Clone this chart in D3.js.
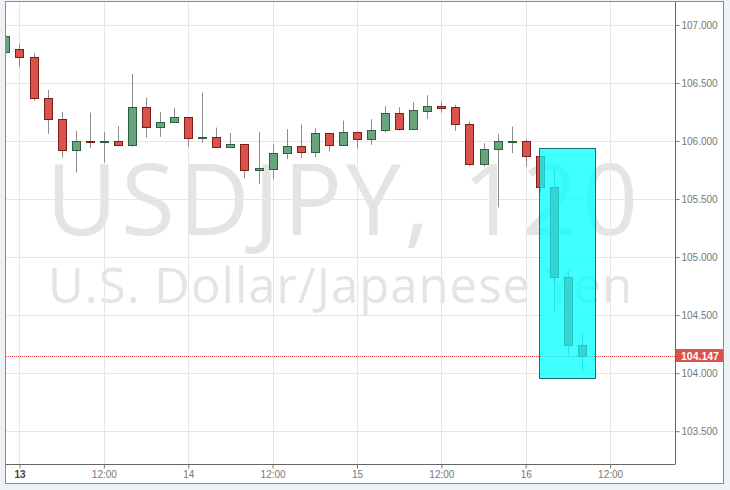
<!DOCTYPE html>
<html><head><meta charset="utf-8">
<script src="https://cdn.jsdelivr.net/npm/d3@7"></script>
<style>
html,body{margin:0;padding:0;background:#eef2f6;}
svg{display:block;}
</style></head>
<body>
<svg id="chart" width="730" height="490"></svg>
<script>
// ---- data (2-hour candles, USDJPY) ----
const startTime = Date.UTC(2016, 8, 12, 22, 0); // first candle: 12th 22:00
const stepHours = 2;
const opens  = [106.77,106.79,106.722,106.372,106.188,105.924,106.0,105.992,106.0,105.962,106.292,106.12,106.163,106.206,106.022,106.034,105.948,105.973,105.75,105.763,105.896,105.956,105.904,106.065,105.962,106.082,106.019,106.096,106.24,106.108,106.263,106.30,106.292,106.151,105.798,105.93,105.998,106.0,105.873,105.60,104.825,104.24];
const highs  = [106.91,106.84,106.756,106.44,106.251,106.088,106.245,106.077,106.128,106.578,106.374,106.251,106.286,106.206,106.417,106.116,106.068,105.973,106.079,105.976,106.102,106.142,106.111,106.065,106.176,106.082,106.188,106.30,106.292,106.335,106.395,106.337,106.312,106.168,105.982,106.062,106.125,106.016,105.873,105.752,104.863,104.338];
const lows   = [106.77,106.636,106.349,106.062,105.858,105.729,105.939,105.815,105.955,105.953,106.03,106.036,106.163,105.948,105.987,105.948,105.948,105.68,105.629,105.672,105.844,105.853,105.861,105.91,105.962,105.935,105.967,106.073,106.09,106.108,106.19,106.245,106.088,105.787,105.78,105.428,105.896,105.78,105.552,104.524,104.169,104.016];
const closes = [106.905,106.72,106.369,106.188,105.924,105.999,105.99,106.0,105.962,106.292,106.12,106.165,106.206,106.022,106.034,105.948,105.973,105.75,105.767,105.898,105.956,105.904,106.065,105.962,106.082,106.019,106.099,106.24,106.108,106.266,106.30,106.288,106.148,105.798,105.93,105.999,106.0,105.873,105.60,104.825,104.24,104.147];
const lastPrice = 104.147;

const xTickTimes  = [Date.UTC(2016,8,13,0),Date.UTC(2016,8,13,12),Date.UTC(2016,8,14,0),Date.UTC(2016,8,14,12),Date.UTC(2016,8,15,0),Date.UTC(2016,8,15,12),Date.UTC(2016,8,16,0),Date.UTC(2016,8,16,12)];
const xTickLabels = ["13","12:00","14","12:00","15","12:00","16","12:00"];
const yTicks = [103.5,104.0,104.5,105.0,105.5,106.0,106.5,107.0];

const highlightTimes  = [Date.UTC(2016,8,16,1,56), Date.UTC(2016,8,16,9,54)];
const highlightPrices = [105.939, 103.96];

const watermarkTitle = "USDJPY, 120";
const watermarkSub = "U.S. Dollar/Japanese Yen";

// ---- layout ----
const svg = d3.select("#chart");
const frame = {l:5.5, t:1.5, r:723.5, b:483.5};
const plot = {l:6, t:2, r:675, b:464.5};

const x = d3.scaleUtc()
  .domain([Date.UTC(2016,8,12,22,5), Date.UTC(2016,8,16,21,14)])
  .range([plot.l, plot.r]);
const y = d3.scaleLinear()
  .domain([103.213, 107.198])
  .range([plot.b, plot.t]);

const candles = opens.map((o,i)=>({t:new Date(startTime + i*stepHours*3600e3), o, h:highs[i], l:lows[i], c:closes[i]}));

// frame background
svg.append("rect").attr("x",frame.l).attr("y",frame.t)
  .attr("width",frame.r-frame.l).attr("height",frame.b-frame.t)
  .attr("fill","#fff").attr("stroke","#8a8a8a").attr("stroke-width",1);

svg.append("clipPath").attr("id","pc").append("rect")
  .attr("x",plot.l).attr("y",plot.t).attr("width",plot.r-plot.l).attr("height",plot.b-plot.t);

const pg = svg.append("g").attr("clip-path","url(#pc)");

// watermark
pg.append("text").attr("x",46).attr("y",235)
  .attr("font-family","'Open Sans', sans-serif").attr("font-size",98)
  .attr("fill","#e4e4e4").attr("textLength",592).attr("lengthAdjust","spacing")
  .text(watermarkTitle);
pg.append("text").attr("x",48).attr("y",303)
  .attr("font-family","'Open Sans', sans-serif").attr("font-size",49)
  .attr("fill","#e4e4e4").attr("textLength",584).attr("lengthAdjust","spacing")
  .text(watermarkSub);

// grid
pg.append("g").selectAll("line").data(xTickTimes).join("line")
  .attr("x1",d=>Math.round(x(d))+0.5).attr("x2",d=>Math.round(x(d))+0.5)
  .attr("y1",plot.t).attr("y2",plot.b).attr("stroke","#e6e6e6");
pg.append("g").selectAll("line").data(yTicks).join("line")
  .attr("y1",d=>Math.round(y(d))+0.5).attr("y2",d=>Math.round(y(d))+0.5)
  .attr("x1",plot.l).attr("x2",plot.r).attr("stroke","#e6e6e6");

// candles
const bw = 8;
const cg = pg.append("g");
candles.forEach(d=>{
  const cx = Math.round(x(d.t));
  const up = d.c >= d.o;
  cg.append("line").attr("x1",cx+0.5).attr("x2",cx+0.5)
    .attr("y1",y(d.h)).attr("y2",y(d.l)).attr("stroke","#8c8c8c").attr("stroke-width",1);
  const top = Math.round(y(Math.max(d.o,d.c)));
  let hgt = Math.round(y(Math.min(d.o,d.c))) - top;
  if (hgt < 1) hgt = 1;
  cg.append("rect").attr("x",cx-bw/2+0.5).attr("y",top+0.5)
    .attr("width",bw).attr("height",hgt)
    .attr("fill",up?"#68a57f":"#d9534a")
    .attr("stroke",up?"#2f5f3f":"#7a1e1a").attr("stroke-width",1);
});

// current price line
pg.append("line").attr("x1",plot.l).attr("x2",plot.r)
  .attr("y1",Math.round(y(lastPrice))+0.5).attr("y2",Math.round(y(lastPrice))+0.5)
  .attr("stroke","#e0463c").attr("stroke-width",1).attr("stroke-dasharray","1,1");

// highlight rectangle
pg.append("rect")
  .attr("x",Math.round(x(highlightTimes[0]))+0.5)
  .attr("y",Math.round(y(highlightPrices[0]))+0.5)
  .attr("width",Math.round(x(highlightTimes[1]))-Math.round(x(highlightTimes[0])))
  .attr("height",Math.round(y(highlightPrices[1]))-Math.round(y(highlightPrices[0])))
  .attr("fill","#00ffff").attr("fill-opacity",0.75)
  .attr("stroke","#1d6e6e").attr("stroke-width",1);

// axes
const yAxis = d3.axisRight(y).tickValues(yTicks).tickFormat(d3.format(".3f")).tickSize(4).tickPadding(2);
const ya = svg.append("g").attr("transform",`translate(${plot.r+0.5},0)`).call(yAxis);
ya.select(".domain").attr("d",`M0,${plot.t}V${plot.b}`).attr("stroke","#666");
ya.selectAll(".tick line").attr("stroke","#777");
ya.selectAll(".tick text").attr("font-family","'Liberation Sans', Arial, sans-serif")
  .attr("font-size",10).attr("fill","#777");

const xAxis = d3.axisBottom(x).tickValues(xTickTimes)
  .tickFormat((d,i)=>xTickLabels[i]).tickSize(4).tickPadding(2);
const xa = svg.append("g").attr("transform",`translate(0,${plot.b})`).call(xAxis);
xa.select(".domain").attr("d",`M${plot.l},0H${plot.r}`).attr("stroke","#666");
xa.selectAll(".tick line").attr("stroke","#777");
xa.selectAll(".tick text").attr("font-family","'Liberation Sans', Arial, sans-serif")
  .attr("font-size",10).attr("fill",(d,i)=>i===0?"#444":"#777")
  .attr("font-weight",(d,i)=>i===0?"bold":"normal");

// price label
const py = Math.round(y(lastPrice));
svg.append("rect").attr("x",plot.r+1).attr("y",py-7).attr("width",frame.r-plot.r-1.5).attr("height",13)
  .attr("fill","#d9534a");
svg.append("text").attr("x",plot.r+6).attr("y",py+4)
  .attr("font-family","'Liberation Sans', Arial, sans-serif").attr("font-size",10.5).attr("font-weight","bold")
  .attr("fill","#fff").text(lastPrice.toFixed(3));
</script>
</body></html>
